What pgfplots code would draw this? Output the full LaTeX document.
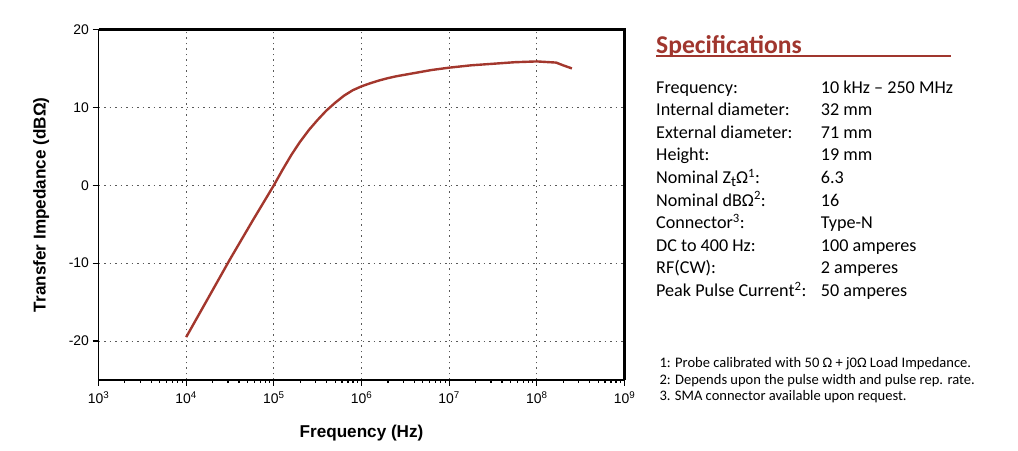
\documentclass[border=0pt]{standalone}
\usepackage{pgfplots}
\pgfplotsset{compat=1.18}
\usepackage{fontspec}
\setmainfont{Liberation Sans}
\newfontfamily\carlito{Carlito}
\definecolor{curve}{RGB}{163,55,45}
\definecolor{title}{RGB}{160,54,46}
\begin{document}
\begin{tikzpicture}[x=1bp,y=1bp]
\path[use as bounding box] (0,0) rectangle (1018,451);
\begin{axis}[
  at={(98.5bp,71bp)}, anchor=south west,
  scale only axis, width=526bp, height=350.5bp,
  xmode=log, xmin=1e3, xmax=1e9,
  ymin=-25, ymax=20,
  xtick={1e3,1e4,1e5,1e6,1e7,1e8,1e9},
  xticklabels={10\textsuperscript{3},10\textsuperscript{4},10\textsuperscript{5},10\textsuperscript{6},10\textsuperscript{7},10\textsuperscript{8},10\textsuperscript{9}},
  ytick={-20,-10,0,10,20},
  yticklabels={-20,-10,0,10,20},
  minor xtick={}, 
  log ticks with fixed point=false,
  tick align=outside, major tick length=6bp,
  tick style={black, line width=1.2bp},
  axis x line*=bottom, axis y line*=left,
  axis line style={black, line width=1.3bp, -},
  ticklabel style={font=\fontsize{14}{15}\selectfont},
  xticklabel style={yshift=-2bp},
  grid=major,
  major grid style={black!65, line width=0.8bp, dash pattern=on 1.5bp off 4bp},
  xlabel={\bfseries Frequency (Hz)},
  ylabel={\bfseries Transfer Impedance (dBΩ)},
  label style={font=\fontsize{17.2}{19}\selectfont},
  xlabel style={at={(axis description cs:0.5,0)}, anchor=base, yshift=-58bp},
  ylabel style={at={(axis description cs:0,0.5)}, anchor=base, yshift=53bp},
  clip=false,
]
\addplot[curve, line width=2.4bp, line join=round] coordinates {
(1e4,-19.5) (17783,-14.5) (31623,-9.5) (56234,-4.7) (1e5,0.0)
(125893,2.0) (158489,3.9) (199526,5.6) (251189,7.1) (316228,8.4)
(398107,9.6) (501187,10.6) (630957,11.5) (794328,12.2) (1e6,12.7)
(1258925,13.1) (1584893,13.45) (1995262,13.75) (2511886,14.0) (3981072,14.4) (6309573,14.8) (1e7,15.1)
(17782794,15.4) (31622777,15.6) (56234133,15.8) (1e8,15.9)
(165958691,15.75) (199526231,15.4) (251188643,15.0)
};
\draw[black, line width=2.6bp] (rel axis cs:0,1) -- (rel axis cs:1,1) -- (rel axis cs:1,0);
\end{axis}
\node[anchor=base west, inner sep=0, text=title, font=\carlito\bfseries\fontsize{25.7}{28}\selectfont] at (656,451-53.3) {Specifications};
\draw[title, line width=2bp] (656,451-55.8) -- (951,451-55.8);
\foreach \a/\b [count=\i from 0] in {
  Frequency:/{10 kHz – 250 MHz},
  Internal diameter:/{32 mm},
  External diameter:/{71 mm},
  Height:/{19 mm},
  {Nominal Z\raisebox{-0.4ex}{\fontsize{15}{16}\selectfont t}Ω\textsuperscript{1}:}/{6.3},
  {Nominal dBΩ\textsuperscript{2}:}/{16},
  {Connector\textsuperscript{3}:}/{Type-N},
  DC to 400 Hz:/{100 amperes},
  RF(CW):/{2 amperes},
  {Peak Pulse Current\textsuperscript{2}:}/{50 amperes}} {
  \node[anchor=base west, inner sep=0, font=\carlito\fontsize{18.2}{20}\selectfont] at (656,451-93.3-22.56*\i) {\a};
  \node[anchor=base west, inner sep=0, font=\carlito\fontsize{18.2}{20}\selectfont] at (820.7,451-93.3-22.56*\i) {\b};
}
\node[anchor=base west, inner sep=0, font=\carlito\fontsize{14.6}{16}\selectfont] at (659.3,451-367.7) {1: Probe calibrated with 50 Ω + j0Ω Load Impedance.};
\node[anchor=base west, inner sep=0, font=\carlito\fontsize{14.6}{16}\selectfont] at (659.3,451-384.3) {2: Depends upon the pulse width and pulse rep. rate.};
\node[anchor=base west, inner sep=0, font=\carlito\fontsize{14.6}{16}\selectfont] at (659.3,451-401) {3. SMA connector available upon request.};
\end{tikzpicture}
\end{document}
